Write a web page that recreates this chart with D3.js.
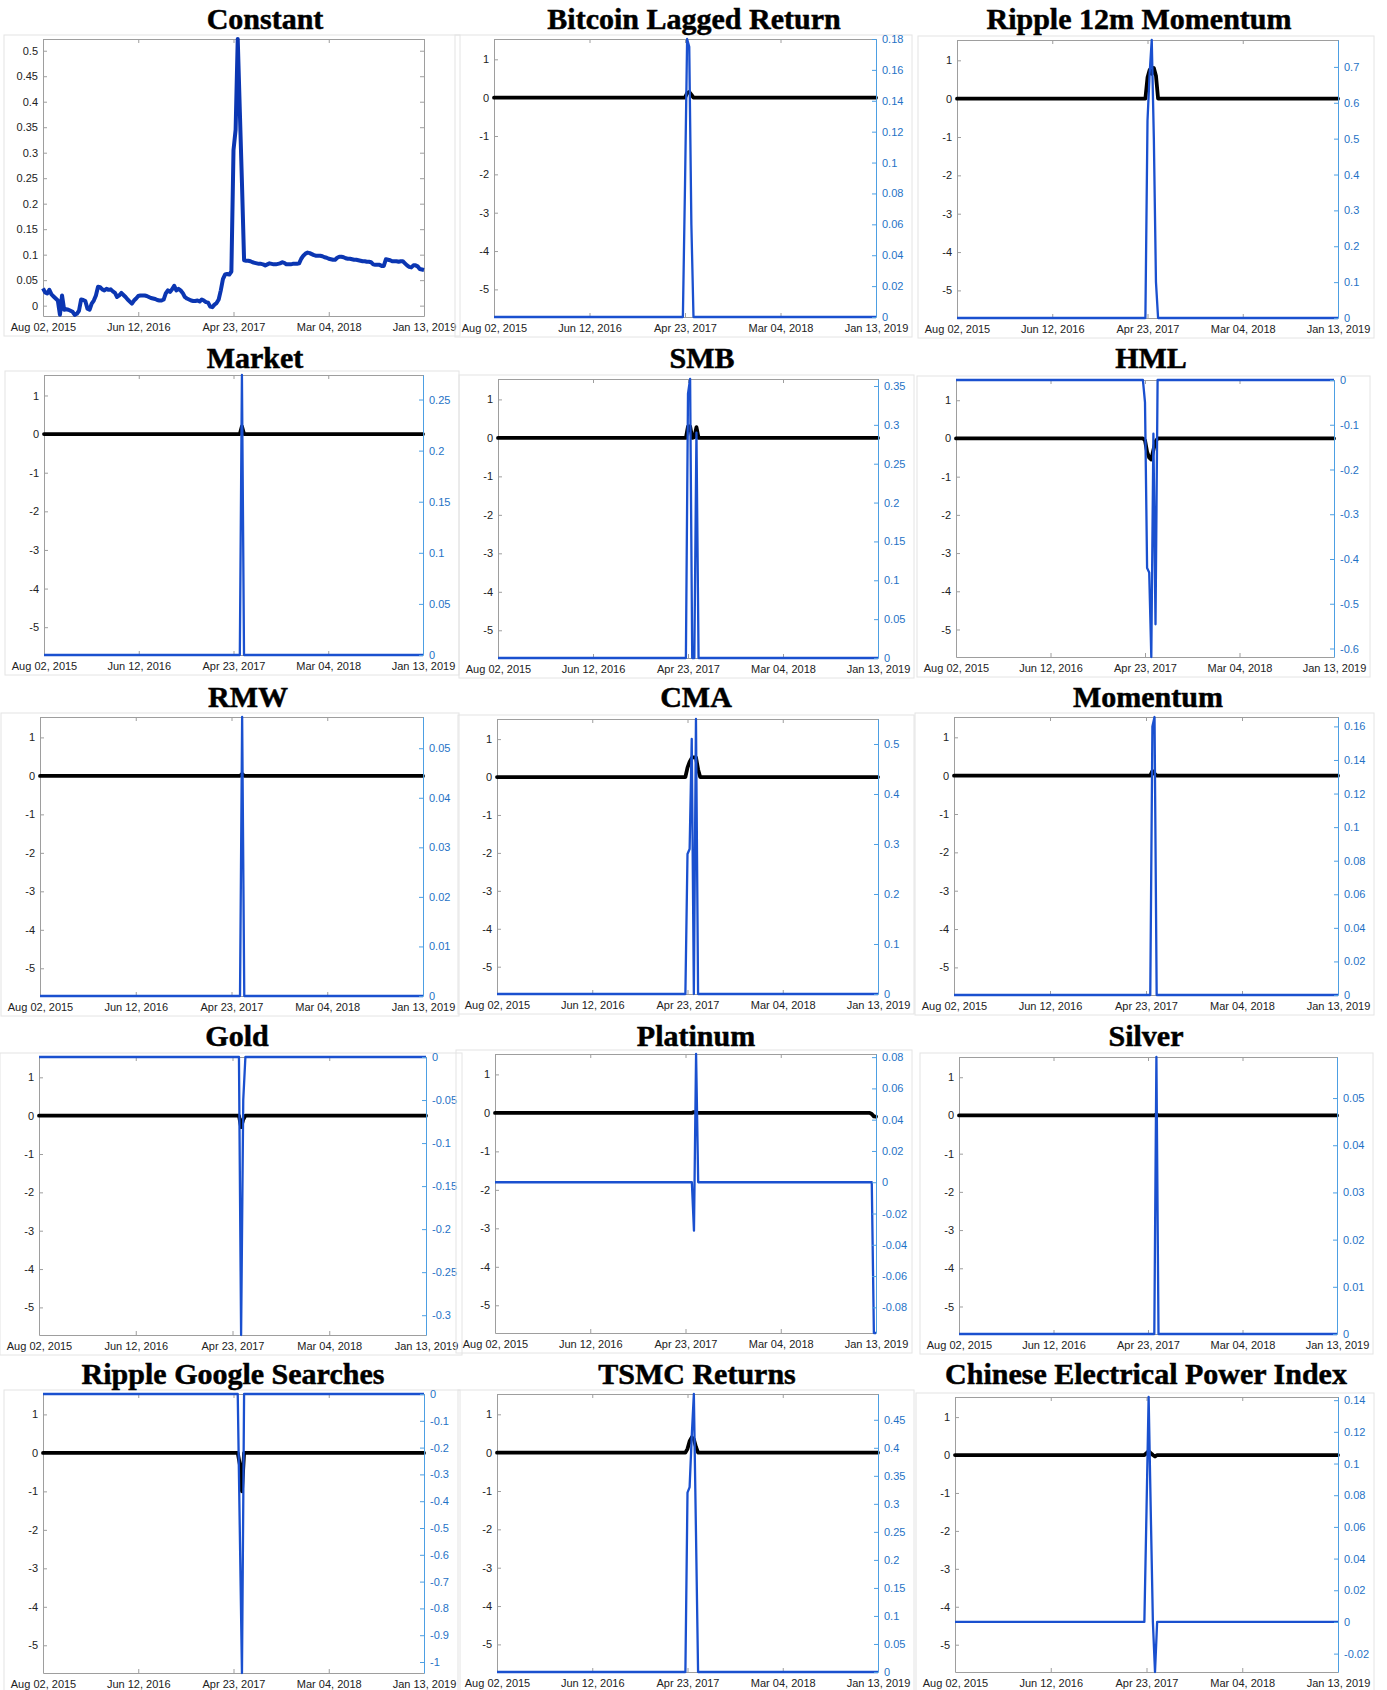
<!DOCTYPE html>
<html>
<head>
<meta charset="utf-8">
<script src="https://cdnjs.cloudflare.com/ajax/libs/d3/7.8.5/d3.min.js"></script>
<style>
  body { margin: 0; background: #ffffff; }
  svg { display: block; }
</style>
</head>
<body>
<svg id="chart" width="1387" height="1690"></svg>
<script>
// ---------- data ----------
const titles = [
  "Constant", "Bitcoin Lagged Return", "Ripple 12m Momentum",
  "Market", "SMB", "HML",
  "RMW", "CMA", "Momentum",
  "Gold", "Platinum", "Silver",
  "Ripple Google Searches", "TSMC Returns", "Chinese Electrical Power Index"
];

// weekly sample, first week and x-axis tick dates
const firstWeek = "2015-08-02";
const dateTicks = ["2015-08-02", "2016-06-12", "2017-04-23", "2018-03-04", "2019-01-13"];

// intercept path (one value per week, 181 weeks)
const constantValues = [
  0.034, 0.026, 0.024, 0.031, 0.022, 0.018, 0.014, 0.010, -0.018, 0.020,
  -0.008, -0.007, -0.008, -0.010, -0.012, -0.018, -0.016, -0.010, 0.012, 0.011,
  0.009, -0.006, -0.008, 0.004, 0.010, 0.020, 0.037, 0.036, 0.032, 0.030,
  0.033, 0.031, 0.032, 0.028, 0.025, 0.017, 0.020, 0.025, 0.021, 0.017,
  0.012, 0.008, 0.004, 0.010, 0.014, 0.019, 0.020, 0.020, 0.020, 0.019,
  0.017, 0.015, 0.014, 0.013, 0.011, 0.010, 0.010, 0.012, 0.024, 0.030,
  0.027, 0.032, 0.039, 0.030, 0.033, 0.030, 0.025, 0.017, 0.014, 0.012,
  0.010, 0.009, 0.009, 0.010, 0.008, 0.012, 0.010, 0.007, 0.006, -0.002,
  -0.003, 0.002, 0.005, 0.012, 0.030, 0.052, 0.061, 0.062, 0.061, 0.067,
  0.305, 0.345, 0.523, 0.380, 0.240, 0.089, 0.088, 0.088, 0.087, 0.085,
  0.084, 0.083, 0.082, 0.082, 0.081, 0.079, 0.081, 0.083, 0.082, 0.081,
  0.081, 0.082, 0.083, 0.085, 0.084, 0.081, 0.081, 0.081, 0.082, 0.082,
  0.082, 0.083, 0.092, 0.098, 0.102, 0.104, 0.103, 0.101, 0.099, 0.098,
  0.098, 0.098, 0.097, 0.095, 0.094, 0.092, 0.091, 0.090, 0.090, 0.094,
  0.096, 0.096, 0.095, 0.093, 0.092, 0.092, 0.091, 0.090, 0.090, 0.089,
  0.088, 0.087, 0.087, 0.086, 0.086, 0.085, 0.081, 0.080, 0.080, 0.080,
  0.078, 0.078, 0.091, 0.090, 0.089, 0.087, 0.087, 0.087, 0.086, 0.087,
  0.087, 0.083, 0.079, 0.076, 0.075, 0.079, 0.079, 0.077, 0.072, 0.071,
  0.070
];
const constantTicks = [0, 0.05, 0.1, 0.15, 0.2, 0.25, 0.3, 0.35, 0.4, 0.45, 0.5];
const constantRange = [-0.0203, 0.523];

// left (black) axis shared by the factor panels
const leftTicks = [1, 0, -1, -2, -3, -4, -5];
const leftRange = [-5.72, 1.53];

// factor paths as [week number, value]; flat stretches are given by their end points
const bitcoinLeft  = [[0, 0], [90, 0], [91, 0.12], [92, 0.15], [93, 0.08], [94, 0], [180, 0]];
const bitcoinRight = [[0, 0], [89, 0], [90, 0.085], [91, 0.18], [92, 0.175], [93, 0.06], [94, 0], [180, 0]];

const ripple12Left  = [[0, 0], [89, 0], [90, 0.55], [91, 0.75], [92, 0.65], [93, 0.8], [94, 0.6], [95, 0], [180, 0]];
const ripple12Right = [[0, 0], [89, 0], [90, 0.55], [91, 0.68], [92, 0.775], [93, 0.5], [94, 0.1], [95, 0], [180, 0]];

const marketLeft  = [[0, 0], [93, 0], [94, 0.2], [95, 0], [180, 0]];
const marketRight = [[0, 0], [93, 0], [94, 0.274], [95, 0], [180, 0]];

const smbLeft  = [[0, 0], [89, 0], [90, 0.3], [91, 0.3], [92, 0], [93, 0.02], [94, 0.28], [95, 0], [180, 0]];
const smbRight = [[0, 0], [89, 0], [90, 0.34], [91, 0.359], [92, 0], [93, 0], [94, 0.29], [95, 0], [180, 0]];

const hmlLeft  = [[0, 0], [89, 0], [90, -0.05], [91, -0.35], [92, -0.5], [93, -0.55], [94, -0.3], [95, -0.08], [96, 0], [180, 0]];
const hmlRight = [[0, 0], [89, 0], [90, -0.05], [91, -0.42], [92, -0.43], [93, -0.619], [94, -0.12], [95, -0.546], [96, 0], [180, 0]];

const rmwLeft  = [[0, 0], [94, 0], [95, 0.05], [96, 0], [180, 0]];
const rmwRight = [[0, 0], [94, 0], [95, 0.0563], [96, 0], [180, 0]];

const cmaLeft  = [[0, 0], [89, 0], [90, 0.25], [91, 0.4], [92, 0.5], [93, 0.52], [94, 0.52], [95, 0.2], [96, 0], [180, 0]];
const cmaRight = [[0, 0], [89, 0], [90, 0.28], [91, 0.29], [92, 0.51], [93, 0], [94, 0.55], [95, 0], [180, 0]];

const momentumLeft  = [[0, 0], [92, 0], [93, 0.12], [94, 0.05], [95, 0], [180, 0]];
const momentumRight = [[0, 0], [92, 0], [93, 0.16], [94, 0.1656], [95, 0], [180, 0]];

const goldLeft  = [[0, 0], [93, 0], [94, -0.3], [95, -0.1], [96, 0], [180, 0]];
const goldRight = [[0, 0], [93, 0], [94, -0.323], [95, -0.05], [96, 0], [180, 0]];

const platinumLeft  = [[0, 0], [93, 0], [94, 0.02], [95, 0], [177, 0], [178, -0.03], [179, -0.09], [180, -0.1]];
const platinumRight = [[0, 0], [93, 0], [94, -0.031], [95, 0.082], [96, 0], [178, 0], [179, -0.0964], [180, -0.0964]];

const silverLeft  = [[0, 0], [93, 0], [94, 0.03], [95, 0], [180, 0]];
const silverRight = [[0, 0], [93, 0], [94, 0.0587], [95, 0], [180, 0]];

const rippleGoogleLeft  = [[0, 0], [92, 0], [93, -0.3], [94, -1.0], [95, 0], [180, 0]];
const rippleGoogleRight = [[0, 0], [92, 0], [94, -1.041], [95, 0], [180, 0]];

const tsmcLeft  = [[0, 0], [89, 0], [90, 0.1], [91, 0.3], [92, 0.4], [93, 0.35], [94, 0.15], [95, 0], [180, 0]];
const tsmcRight = [[0, 0], [89, 0], [90, 0.32], [91, 0.33], [92, 0.42], [93, 0.496], [94, 0.25], [95, 0], [180, 0]];

const powerLeft  = [[0, 0], [89, 0], [90, 0.05], [91, 0.1], [92, 0.05], [93, 0], [94, -0.04], [95, 0], [180, 0]];
const powerRight = [[0, 0], [89, 0], [90, 0.07], [91, 0.142], [92, 0.07], [93, 0], [94, -0.0316], [95, 0], [180, 0]];

// right (blue) axis ranges and tick values
const rightRanges = [
  null, [0, 0.18], [0, 0.775],
  [0, 0.274], [0, 0.359], [-0.619, 0],
  [0, 0.0563], [0, 0.55], [0, 0.1656],
  [-0.323, 0], [-0.0964, 0.082], [0, 0.0587],
  [-1.041, 0], [0, 0.496], [-0.0316, 0.142]
];
const rightTicks = [
  null,
  [0, 0.02, 0.04, 0.06, 0.08, 0.1, 0.12, 0.14, 0.16, 0.18],
  [0, 0.1, 0.2, 0.3, 0.4, 0.5, 0.6, 0.7],
  [0, 0.05, 0.1, 0.15, 0.2, 0.25],
  [0, 0.05, 0.1, 0.15, 0.2, 0.25, 0.3, 0.35],
  [-0.6, -0.5, -0.4, -0.3, -0.2, -0.1, 0],
  [0, 0.01, 0.02, 0.03, 0.04, 0.05],
  [0, 0.1, 0.2, 0.3, 0.4, 0.5],
  [0, 0.02, 0.04, 0.06, 0.08, 0.1, 0.12, 0.14, 0.16],
  [-0.3, -0.25, -0.2, -0.15, -0.1, -0.05, 0],
  [-0.08, -0.06, -0.04, -0.02, 0, 0.02, 0.04, 0.06, 0.08],
  [0, 0.01, 0.02, 0.03, 0.04, 0.05],
  [-1, -0.9, -0.8, -0.7, -0.6, -0.5, -0.4, -0.3, -0.2, -0.1, 0],
  [0, 0.05, 0.1, 0.15, 0.2, 0.25, 0.3, 0.35, 0.4, 0.45],
  [-0.02, 0, 0.02, 0.04, 0.06, 0.08, 0.1, 0.12, 0.14]
];

const leftSeries = [null, bitcoinLeft, ripple12Left, marketLeft, smbLeft, hmlLeft, rmwLeft, cmaLeft,
  momentumLeft, goldLeft, platinumLeft, silverLeft, rippleGoogleLeft, tsmcLeft, powerLeft];
const rightSeries = [null, bitcoinRight, ripple12Right, marketRight, smbRight, hmlRight, rmwRight, cmaRight,
  momentumRight, goldRight, platinumRight, silverRight, rippleGoogleRight, tsmcRight, powerRight];

// ---------- layout ----------
// plot box [left, top, right, bottom], title centre x and title baseline y
const boxes = [
  [43, 39, 424, 316], [494, 39, 876, 317], [957, 40, 1338, 318],
  [44, 375, 423, 655], [498, 379, 878, 658], [956, 380, 1334, 657],
  [40, 717, 423, 996], [497, 719, 878, 994], [954, 717, 1338, 995],
  [39, 1057, 426, 1335], [495, 1054, 876, 1333], [959, 1057, 1337, 1334],
  [43, 1394, 424, 1673], [497, 1394, 878, 1672], [955, 1397, 1338, 1672]
];
const titleCx = [265, 694, 1139, 255, 702, 1151, 248, 696, 1148, 237, 696, 1146, 233, 697, 1146];
const titleBaseline = [29, 368, 707, 1046, 1384];

const GRID = "#9e9e9e";
const TEXT = "#222222";
const RAXIS = "#4d9fe3";
const RTEXT = "#1f72c6";
const BLUE = "#1a50cf";
const CONST_BLUE = "#0b36b2";

const parse = d3.utcParse("%Y-%m-%d");
const start = parse(firstWeek);
const weekDate = i => d3.utcDay.offset(start, 7 * i);
const tickDates = dateTicks.map(parse);
const fmtDate = d3.utcFormat("%b %d, %Y");

const svg = d3.select("#chart");

function styleAxis(sel, lineColor, textColor) {
  sel.selectAll(".domain").attr("stroke", lineColor).attr("stroke-width", 1);
  sel.selectAll(".tick line").attr("stroke", lineColor).attr("stroke-width", 1);
  sel.selectAll(".tick text")
    .attr("fill", textColor)
    .attr("font-family", "'Liberation Sans', Arial, sans-serif")
    .attr("font-size", 11);
}

titles.forEach((title, k) => {
  const [x0, y0, x1, y1] = boxes[k];
  const g = svg.append("g");
  const dual = k > 0;

  // faint frame of each figure
  g.append("rect")
    .attr("x", x0 - 39).attr("y", y0 - 4)
    .attr("width", x1 - x0 + 75).attr("height", y1 - y0 + 24)
    .attr("fill", "none").attr("stroke", "#e4e4e4").attr("stroke-width", 1);

  const x = d3.scaleUtc().domain([tickDates[0], tickDates[tickDates.length - 1]]).range([x0, x1]);
  const yL = d3.scaleLinear().domain(dual ? leftRange : constantRange).range([y1, y0]);
  const lTicks = dual ? leftTicks : constantTicks;

  // top and bottom axes with inward ticks
  g.append("g").attr("transform", `translate(0,${y0})`)
    .call(d3.axisTop(x).tickValues(tickDates).tickFormat(() => "").tickSizeInner(-4).tickSizeOuter(0))
    .call(s => styleAxis(s, GRID, TEXT));
  g.append("g").attr("transform", `translate(0,${y1})`)
    .call(d3.axisBottom(x).tickValues(tickDates).tickFormat(fmtDate).tickSizeInner(-4).tickSizeOuter(0).tickPadding(7))
    .call(s => styleAxis(s, GRID, TEXT));

  // left axis
  g.append("g").attr("transform", `translate(${x0},0)`)
    .call(d3.axisLeft(yL).tickValues(lTicks).tickFormat(v => String(v)).tickSizeInner(-4).tickSizeOuter(0).tickPadding(5))
    .call(s => styleAxis(s, GRID, TEXT));

  const line = (xs, ys) => d3.line().x(d => xs(weekDate(d[0]))).y(d => ys(d[1]));

  if (!dual) {
    // mirrored right side of the box
    g.append("g").attr("transform", `translate(${x1},0)`)
      .call(d3.axisRight(yL).tickValues(lTicks).tickFormat(() => "").tickSizeInner(-4).tickSizeOuter(0))
      .call(s => styleAxis(s, GRID, TEXT));
    g.append("path")
      .datum(constantValues.map((v, i) => [i, v]))
      .attr("d", line(x, yL))
      .attr("fill", "none").attr("stroke", CONST_BLUE)
      .attr("stroke-width", 4).attr("stroke-linejoin", "round");
  } else {
    const yR = d3.scaleLinear().domain(rightRanges[k]).range([y1, y0]);
    g.append("path")
      .datum(leftSeries[k])
      .attr("d", line(x, yL))
      .attr("fill", "none").attr("stroke", "#000000")
      .attr("stroke-width", 3.8).attr("stroke-linejoin", "round").attr("stroke-linecap", "round");
    g.append("path")
      .datum(rightSeries[k])
      .attr("d", line(x, yR))
      .attr("fill", "none").attr("stroke", BLUE)
      .attr("stroke-width", 2.3).attr("stroke-linejoin", "round");
    g.append("g").attr("transform", `translate(${x1},0)`)
      .call(d3.axisRight(yR).tickValues(rightTicks[k]).tickFormat(v => String(v)).tickSizeInner(-4).tickSizeOuter(0).tickPadding(6))
      .call(s => styleAxis(s, RAXIS, RTEXT));
  }

  // title
  svg.append("text")
    .attr("x", titleCx[k])
    .attr("y", titleBaseline[Math.floor(k / 3)])
    .attr("text-anchor", "middle")
    .attr("font-family", "'Liberation Serif', 'Times New Roman', serif")
    .attr("font-weight", "bold")
    .attr("font-size", 30)
    .attr("fill", "#000")
    .attr("stroke", "#000")
    .attr("stroke-width", 0.5)
    .text(title);
});
</script>
</body>
</html>
